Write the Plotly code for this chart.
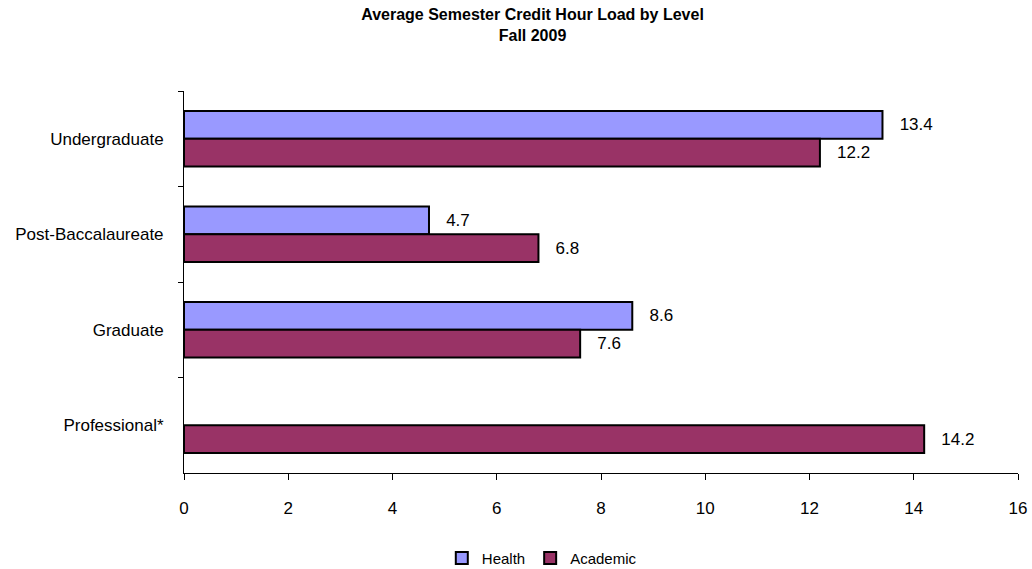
import plotly.graph_objects as go

levels = ["Undergraduate", "Post-Baccalaureate", "Graduate", "Professional*"]
health = [13.4, 4.7, 8.6, None]
academic = [12.2, 6.8, 7.6, 14.2]
x_ticks = [0, 2, 4, 6, 8, 10, 12, 14, 16]

FONT = "Liberation Sans, Arial, sans-serif"

fig = go.Figure()

fig.add_trace(go.Bar(
    y=levels,
    x=health,
    name="Health",
    orientation="h",
    marker=dict(color="#9999FF", line=dict(color="black", width=2)),
    text=[None if v is None else f"{v:.1f}" for v in health],
    texttemplate="   %{text}",
    textposition="outside",
    textfont=dict(size=17, color="black"),
    cliponaxis=False,
))

fig.add_trace(go.Bar(
    y=levels,
    x=academic,
    name="Academic",
    orientation="h",
    marker=dict(color="#993366", line=dict(color="black", width=2)),
    text=[f"{v:.1f}" for v in academic],
    texttemplate="   %{text}",
    textposition="outside",
    textfont=dict(size=17, color="black"),
    cliponaxis=False,
))

fig.update_layout(
    width=1032,
    height=569,
    barmode="group",
    bargap=0.42,
    bargroupgap=0,
    plot_bgcolor="white",
    paper_bgcolor="white",
    font=dict(family=FONT, size=17, color="black"),
    title=dict(
        text="<b>Average Semester Credit Hour Load by Level<br>Fall 2009</b>",
        x=0.516,
        xanchor="center",
        xref="container",
        yref="container",
        y=0.965,
        yanchor="bottom",
        font=dict(family=FONT, size=16, color="black"),
    ),
    margin=dict(l=184, r=14, t=91, b=96, autoexpand=False),
    showlegend=True,
    legend=dict(
        orientation="h",
        x=0.525,
        xref="container",
        xanchor="center",
        y=-0.18,
        yanchor="top",
        font=dict(family=FONT, size=15, color="black"),
        traceorder="normal",
        itemwidth=30,
    ),
)

fig.update_xaxes(
    range=[0, 16],
    tickvals=x_ticks,
    showgrid=False,
    zeroline=False,
    showline=True,
    linecolor="black",
    linewidth=1,
    ticks="outside",
    ticklen=6,
    tickcolor="black",
    ticklabelstandoff=14,
    automargin=False,
)

fig.update_yaxes(
    autorange="reversed",
    showgrid=False,
    showline=True,
    linecolor="black",
    linewidth=1,
    ticks="outside",
    tickson="boundaries",
    ticklen=5,
    tickcolor="black",
    ticklabelstandoff=16,
    automargin=False,
)

# the page's default body margin would push the 1032x569 figure off the window
fig.write_html(
    "out.html",
    config={"displayModeBar": False},
    post_script="document.body.style.margin = '0';",
)
